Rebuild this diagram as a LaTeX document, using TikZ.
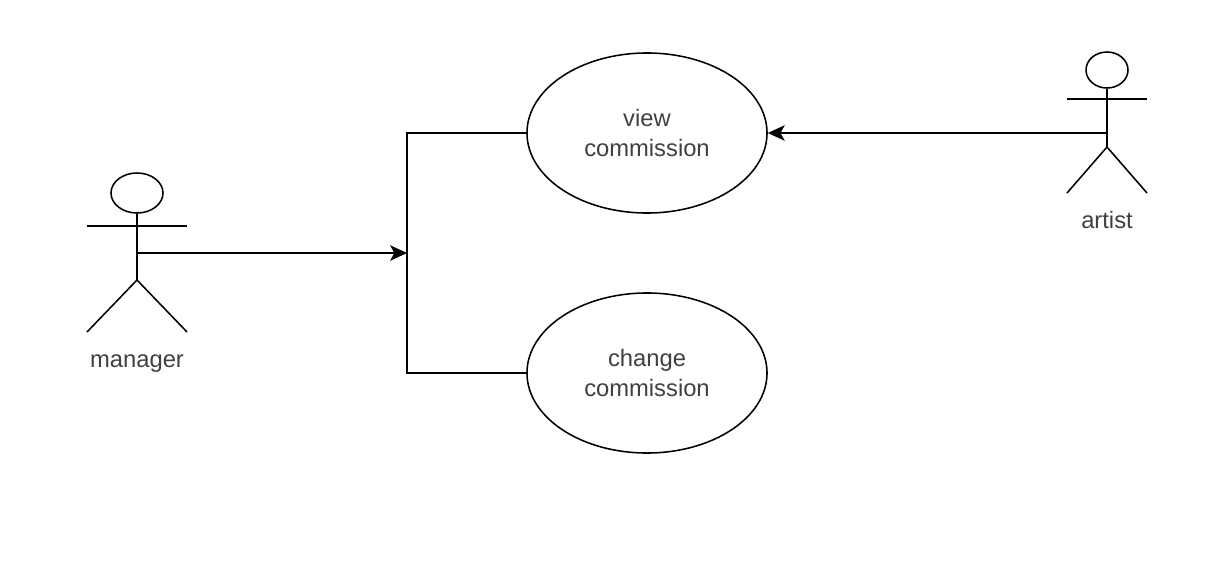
\documentclass[tikz,border=0pt]{standalone}
\usepackage{fontspec}
\setmainfont{Liberation Sans}
\usetikzlibrary{arrows.meta,shapes.geometric}
\tikzset{
  usecase/.style={draw,ellipse,inner sep=0pt,minimum width=6cm,minimum height=4cm,align=center,text=black!75},
  head/.style={draw,ellipse,inner sep=0pt},
  actorname/.style={text=black!75,inner sep=0pt},
  flow/.style={-{Stealth[length=12pt,width=11pt,inset=3pt]}},
}
\begin{document}
\begin{tikzpicture}[x=0.025cm,y=-0.025cm,line width=1.1pt,font=\fontsize{16.9}{21}\selectfont]
\useasboundingbox (0,0) rectangle (1232,580);
%use cases
\node[usecase](view) at (647,133){view\\commission};
\node[usecase](change) at (647,373){change\\commission};
%manager
\node[head,minimum width=1.3cm,minimum height=1cm](mhead) at (137,193){};
\coordinate(mhip) at (137,280);
\coordinate(mhand) at (137,253);
\draw(mhead.south)--(mhip);
\draw(87,226)--(187,226);
\draw(87,332)--(mhip)--(187,332);
\node[actorname](manager) at (137,364){manager};
%artist
\node[head,minimum width=1.05cm,minimum height=0.9cm](ahead) at (1107,70){};
\coordinate(ahip) at (1107,147);
\coordinate(ahand) at (1107,133);
\draw(ahead.south)--(ahip);
\draw(1067,99)--(1147,99);
\draw(1067,193)--(ahip)--(1147,193);
\node[actorname](artist) at (1107,220){artist};
%connectors
\coordinate(bus) at (407,253);
\draw(view.west)-|(bus)|-(change.west);
\draw[flow](mhand)--(bus);
\draw[flow](ahand)--(view.east);
\end{tikzpicture}
\end{document}
